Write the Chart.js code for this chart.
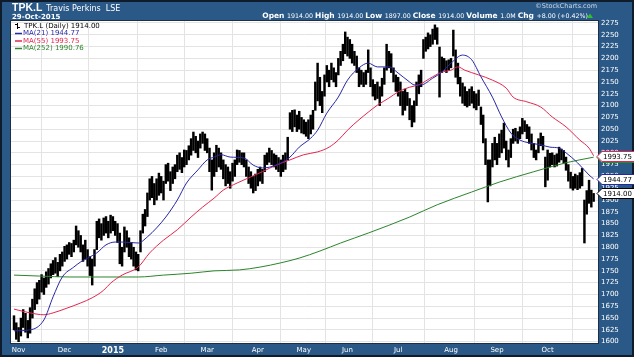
<!DOCTYPE html>
<html><head><meta charset="utf-8">
<script src="https://cdn.jsdelivr.net/npm/chart.js@4"></script>
<style>html,body{margin:0;padding:0;background:#2b5987;overflow:hidden}canvas{display:block}</style>
</head><body>
<canvas id="c" width="634" height="357"></canvas>
<script>
// ---- data (trading-day index 0 = 30-Oct-2014 ... 252 = 29-Oct-2015) ----
const monthTicks  = [2, 22, 43, 64, 84, 106, 126, 145, 167, 190, 210, 232];
const monthLabels = ['Nov','Dec','2015','Feb','Mar','Apr','May','Jun','Jul','Aug','Sep','Oct'];
const priceTicks = [1600,1625,1650,1675,1700,1725,1750,1775,1800,1825,1850,1875,1900,1925,1950,1975,
                    2000,2025,2050,2075,2100,2125,2150,2175,2200,2225,2250,2275];

const dayLow = [
 1625,1605,1600,1612,1630,1620,1608,1618,1650,1668,
 1680,1690,1705,1700,1715,1722,1735,1742,1745,1738,
 1750,1760,1770,1775,1785,1780,1790,1805,1800,1790,
 1770,1775,1760,1740,1720,1760,1795,1820,1815,1825,
 1830,1820,1830,1835,1825,1810,1765,1760,1790,1800,
 1780,1775,1760,1752,1750,1790,1830,1845,1865,1900,
 1905,1890,1900,1910,1915,1900,1935,1940,1920,1935,
 1945,1960,1965,1958,1970,1975,1985,1995,2005,2000,
 1990,2010,2020,2005,2000,1960,1921,1950,1960,1970,
 1965,1945,1930,1935,1925,1940,1950,1975,1980,1975,
 1970,1950,1935,1925,1915,1920,1930,1940,1935,1960,
 1975,1980,1975,1970,1965,1960,1950,1960,1965,1985,
 2050,2045,2055,2045,2050,2042,2040,2035,2030,2040,
 2050,2090,2110,2100,2085,2120,2150,2140,2155,2150,
 2140,2165,2185,2195,2210,2205,2200,2190,2185,2170,
 2140,2145,2140,2145,2170,2140,2120,2112,2115,2100,
 2120,2145,2175,2180,2170,2150,2130,2120,2100,2080,
 2090,2100,2070,2055,2065,2100,2125,2140,2200,2215,
 2220,2225,2230,2240,2230,2118,2170,2175,2170,2175,
 2180,2205,2160,2146,2120,2105,2100,2097,2100,2105,
 2095,2091,2100,2060,2021,1975,1896,1930,1970,1985,
 1975,1990,2000,2010,1985,1970,1990,2020,2025,2020,
 2030,2040,2045,2030,2020,2006,1990,1985,2000,2015,
 2006,1928,1942,1970,1975,1970,1972,1980,1985,1978,
 1963,1940,1925,1921,1925,1922,1925,1930,1809,1870,
 1893,1885,1897];
const dayHigh = [
 1655,1640,1630,1650,1668,1660,1645,1672,1690,1712,
 1725,1730,1742,1735,1748,1755,1765,1772,1778,1768,
 1785,1790,1802,1805,1810,1808,1815,1845,1835,1825,
 1805,1815,1795,1780,1775,1795,1855,1860,1850,1862,
 1865,1855,1868,1865,1855,1850,1830,1800,1843,1835,
 1820,1810,1800,1790,1785,1835,1870,1880,1915,1945,
 1950,1935,1945,1957,1950,1940,1975,1978,1960,1970,
 1975,1995,2000,1990,2006,2005,2015,2030,2044,2035,
 2025,2040,2044,2040,2030,2010,1985,2000,2016,2010,
 2000,1985,1975,1970,1960,1978,1985,2006,2005,2000,
 2000,1985,1970,1960,1950,1955,1965,1970,1965,1995,
 2000,2010,2005,1998,1995,1990,1985,1995,2000,2033,
 2085,2090,2091,2080,2088,2075,2070,2065,2070,2080,
 2090,2150,2190,2160,2130,2165,2185,2175,2190,2180,
 2170,2200,2215,2230,2256,2245,2240,2230,2215,2205,
 2180,2175,2170,2175,2218,2180,2155,2145,2150,2140,
 2158,2180,2230,2215,2210,2180,2165,2160,2150,2130,
 2135,2128,2115,2100,2110,2150,2165,2175,2240,2245,
 2254,2250,2262,2271,2265,2224,2203,2200,2195,2197,
 2200,2260,2218,2190,2160,2148,2140,2130,2135,2140,
 2130,2125,2133,2097,2080,2030,1985,1985,2020,2033,
 2020,2040,2048,2063,2025,2006,2030,2050,2052,2045,
 2055,2073,2068,2060,2055,2040,2020,2006,2030,2042,
 2035,1991,2006,1999,2000,1995,1998,2012,2008,2005,
 1991,1975,1959,1950,1955,1952,1958,1967,1900,1920,
 1942,1921,1914];

const ma21Days   = [0,7,13,17,21,26,29,32,36,40,44,47,54,58,62,66,71,75,80,84,87,90,94,100,104,108,114,120,124,129,
                    132,136,141,145,150,154,158,163,167,172,174,177,182,186,190,195,199,203,208,212,216,220,224,229,233,237,240,245,250,252];
const ma21Values = [1623,1625,1646,1695,1737,1758,1769,1777,1788,1805,1811,1811,1809,1822,1841,1864,1900,1936,1964,1985,
                    1991,1996,1991,1989,1974,1968,1974,1991,2012,2031,2048,2084,2118,2154,2180,2190,2182,2182,2169,2150,
                    2144,2144,2158,2171,2190,2207,2197,2161,2118,2076,2042,2027,2021,2017,2012,2010,2000,1979,1953,1944.77];
const ma55Days   = [0,7,13,17,23,29,34,39,42,47,54,59,65,71,77,82,87,91,97,103,108,114,120,126,132,137,141,145,150,154,
                    158,163,167,172,176,182,186,190,193,196,202,208,214,217,223,229,234,240,246,250,252];
const ma55Values = [1669,1661,1657,1661,1671,1682,1693,1709,1724,1741,1758,1788,1815,1837,1864,1885,1904,1921,1936,1949,
                    1960,1974,1985,1996,2002,2012,2027,2048,2070,2086,2101,2116,2129,2139,2144,2161,2171,2175,2182,2175,
                    2165,2154,2137,2118,2108,2097,2076,2055,2027,2010,1993.75];
const ma252Days   = [0,11,24,37,47,54,65,77,87,98,107,116,124,133,142,154,172,184,199,211,226,240,252];
const ma252Values = [1741,1739,1737,1737,1737,1737,1741,1745,1750,1752,1758,1767,1777,1792,1809,1830,1864,1890,1917,1938,1960,1979,1990.76];

const lastClose = 1914.00;
const headerItems = [['Open ',1],['1914.00 ',0],['High ',1],['1914.00 ',0],['Low ',1],['1897.00 ',0],
                     ['Close ',1],['1914.00 ',0],['Volume ',1],['1.0M ',0],['Chg ',1],['+8.00 (+0.42%) ',0]];

// ---- build ----
const BG = '#2b5987', BLUE = '#2727a6', RED = '#e3264e', GREEN = '#2b852b';
const FONT = '"DejaVu Sans", Verdana, sans-serif';
const pts = (d, v) => d.map((x, i) => ({x, y: v[i]}));
const bars = dayLow.map((lo, i) => ({x: i, y: [lo, dayHigh[i]]}));

const deco = {
  id: 'deco',
  beforeDraw(chart) {
    const {ctx, chartArea: a} = chart;
    ctx.save();
    ctx.fillStyle = BG;
    ctx.fillRect(0, 0, chart.width, chart.height);
    ctx.fillStyle = '#fff';
    ctx.fillRect(a.left, a.top, a.right - a.left, a.bottom - a.top);
    ctx.restore();
  },
  afterDraw(chart) {
    const {ctx, chartArea: a} = chart;
    const ys = chart.scales.y;
    ctx.save();
    // frames
    ctx.strokeStyle = '#1d2f45'; ctx.lineWidth = 1;
    ctx.strokeRect(a.left - 0.5, a.top - 0.5, a.right - a.left + 1, a.bottom - a.top + 1);
    ctx.strokeStyle = '#0f1c2c'; ctx.lineWidth = 2;
    ctx.strokeRect(1, 1, chart.width - 2, chart.height - 2);

    // title block
    ctx.fillStyle = '#fff'; ctx.textBaseline = 'alphabetic'; ctx.textAlign = 'left';
    ctx.font = 'bold 10.5px "Liberation Sans", Arial, sans-serif'; ctx.fillText('TPK.L', 12, 11);
    const tw = ctx.measureText('TPK.L').width;
    ctx.font = '8px ' + FONT; ctx.fillText('Travis Perkins  LSE', 12 + tw + 4, 11);
    ctx.font = 'bold 7px ' + FONT; ctx.fillText('29-Oct-2015', 12, 19);
    ctx.fillStyle = '#c9d6e6'; ctx.font = '6.5px ' + FONT; ctx.textAlign = 'right';
    ctx.fillText('\u00A9StockCharts.com', 597, 8);

    // header OHLC line (right aligned)
    ctx.textAlign = 'left';
    let w = 0;
    headerItems.forEach(([t, b]) => { ctx.font = (b ? 'bold 7.5px ' : '6.3px ') + FONT; w += ctx.measureText(t).width; });
    let x = 590 - w;
    ctx.fillStyle = '#fff';
    headerItems.forEach(([t, b]) => { ctx.font = (b ? 'bold 7.5px ' : '6.3px ') + FONT; ctx.fillText(t, x, 18); x += ctx.measureText(t).width; });
    ctx.fillStyle = '#2fbf2f';
    ctx.beginPath(); ctx.moveTo(x - 3, 18); ctx.lineTo(x + 3, 18); ctx.lineTo(x, 13.5); ctx.closePath(); ctx.fill();

    // legend
    const lx = a.left + 4;
    ctx.font = '7px ' + FONT; ctx.textBaseline = 'middle';
    ctx.strokeStyle = '#000'; ctx.lineWidth = 1;
    ctx.beginPath(); ctx.moveTo(lx + 2.5, 23); ctx.lineTo(lx + 2.5, 29); ctx.moveTo(lx, 24.5); ctx.lineTo(lx + 2.5, 24.5);
    ctx.moveTo(lx + 2.5, 27.5); ctx.lineTo(lx + 5, 27.5); ctx.stroke();
    ctx.fillStyle = '#000'; ctx.fillText('TPK.L (Daily) ' + lastClose.toFixed(2), lx + 9, 26);
    const leg = [['MA(21) ', ma21Values, BLUE], ['MA(55) ', ma55Values, RED], ['MA(252) ', ma252Values, GREEN]];
    leg.forEach(([t, arr, c], k) => {
      const yy = 33.5 + k * 7.5;
      ctx.strokeStyle = c; ctx.lineWidth = 1.5;
      ctx.beginPath(); ctx.moveTo(lx, yy); ctx.lineTo(lx + 7, yy); ctx.stroke();
      ctx.fillStyle = c; ctx.fillText(t + arr[arr.length - 1].toFixed(2), lx + 8, yy);
    });

    // right value tags
    const tag = (v, c) => {
      const y = Math.round(ys.getPixelForValue(v)) + 0.5;
      ctx.beginPath();
      ctx.moveTo(a.right - 1, y); ctx.lineTo(a.right + 4, y - 5); ctx.lineTo(chart.width + 2, y - 5);
      ctx.lineTo(chart.width + 2, y + 5); ctx.lineTo(a.right + 4, y + 5); ctx.closePath();
      ctx.fillStyle = '#fff'; ctx.fill();
      ctx.strokeStyle = c; ctx.lineWidth = 1; ctx.stroke();
      ctx.fillStyle = '#000'; ctx.font = '7px ' + FONT; ctx.textBaseline = 'middle'; ctx.textAlign = 'left';
      ctx.fillText(v.toFixed(2), a.right + 5, y + 0.5);
    };
    tag(ma252Values[ma252Values.length - 1], GREEN);
    tag(ma55Values[ma55Values.length - 1], RED);
    tag(ma21Values[ma21Values.length - 1], BLUE);
    tag(lastClose, '#000');
    ctx.restore();
  }
};

const lineDs = (label, data, color) => ({
  type: 'line', label, data, borderColor: color, borderWidth: 1, pointRadius: 0,
  cubicInterpolationMode: 'monotone', order: 0, clip: 0
});

new Chart(document.getElementById('c'), {
  type: 'bar',
  data: {
    datasets: [
      {type: 'bar', label: 'TPK.L', data: bars, backgroundColor: '#000', borderWidth: 0,
       barThickness: 1.8, order: 1, grouped: false},
      lineDs('MA(21)', pts(ma21Days, ma21Values), BLUE),
      lineDs('MA(55)', pts(ma55Days, ma55Values), RED),
      lineDs('MA(252)', pts(ma252Days, ma252Values), GREEN)
    ]
  },
  options: {
    responsive: false, animation: false, devicePixelRatio: 1,
    layout: {padding: {left: 11, top: 21, right: 0, bottom: 0}},
    plugins: {legend: {display: false}, tooltip: {enabled: false}},
    scales: {
      x: {
        type: 'linear', min: -1.3, max: 253.9, offset: false,
        afterBuildTicks: s => { s.ticks = monthTicks.map(v => ({value: v})); },
        afterFit: s => { s.height = 14; },
        grid: {color: '#e3e3e3', drawTicks: false, tickLength: 0},
        border: {display: false},
        ticks: {
          autoSkip: false, maxRotation: 0, padding: 3, color: '#fff',
          font: c => (c.tick && c.tick.value === 43) ? {family: FONT, size: 8, weight: 'bold'} : {family: FONT, size: 7},
          callback: v => monthLabels[monthTicks.indexOf(v)] || ''
        }
      },
      y: {
        type: 'linear', position: 'right', min: 1597.2, max: 2279.2,
        afterBuildTicks: s => { s.ticks = priceTicks.map(v => ({value: v})); },
        afterFit: s => { s.width = 36; },
        grid: {color: '#e3e3e3', drawTicks: false, tickLength: 0},
        border: {display: false},
        ticks: {autoSkip: false, padding: 3, color: '#fff', font: {family: FONT, size: 7}, callback: v => String(v)}
      }
    }
  },
  plugins: [deco]
});
</script>
</body></html>
